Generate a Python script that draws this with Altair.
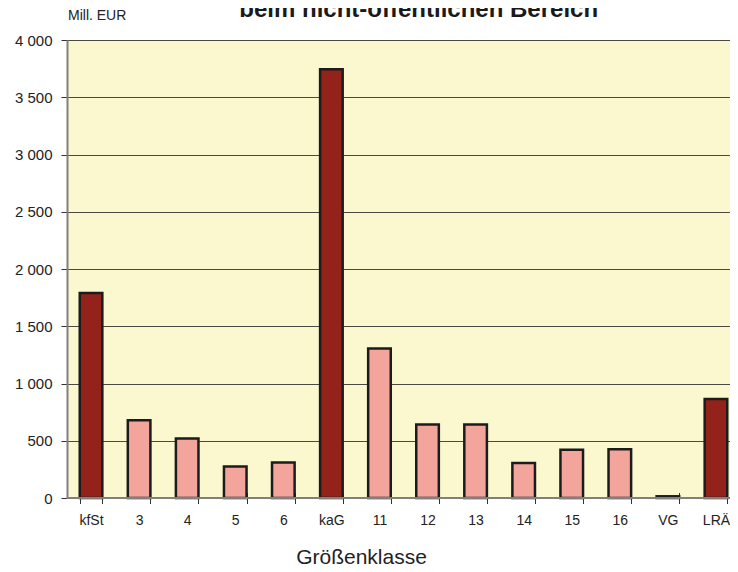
import altair as alt
import pandas as pd

categories = ["kfSt", "3", "4", "5", "6", "kaG", "11", "12", "13", "14", "15", "16", "VG", "LRÄ"]
values = [1790, 680, 520, 275, 310, 3745, 1305, 642, 642, 305, 421, 426, 15, 865]
groups = ["Gruppe", "Klasse", "Klasse", "Klasse", "Klasse", "Gruppe", "Klasse",
          "Klasse", "Klasse", "Klasse", "Klasse", "Klasse", "Gruppe", "Gruppe"]
group_domain = ["Gruppe", "Klasse"]
group_colors = ["#93231A", "#F3A49B"]
title_text = "beim nicht-öffentlichen Bereich"
unit_text = "Mill. EUR"
x_title = "Größenklasse"

df = pd.DataFrame({"cat": categories, "value": values, "grp": groups})

FONT = "Liberation Sans"

bars = alt.Chart(df).mark_bar(stroke="#1c1c1c", strokeWidth=2.5).encode(
    x=alt.X(
        "cat:N",
        sort=categories,
        scale=alt.Scale(range=[0, 673], paddingInner=0.53, paddingOuter=0.265),
        axis=alt.Axis(
            title=x_title,
            labelAngle=0,
            tickBand="extent",
            tickSize=11,
            offset=-5.5,
            domain=False,
            tickColor="#333333",
            tickWidth=1,
            labelPadding=10,
            labelFont=FONT,
            labelFontSize=14,
            labelColor="#222222",
            titleFont=FONT,
            titleFontSize=21,
            titleFontWeight="normal",
            titleColor="#222222",
            titleX=294,
            titleY=70.5,
            titleBaseline="alphabetic",
            titleAnchor="middle",
        ),
    ),
    y=alt.Y(
        "value:Q",
        scale=alt.Scale(domain=[0, 4000], nice=False),
        axis=alt.Axis(
            title=None,
            values=list(range(0, 4001, 500)),
            labelExpr="replace(format(datum.value, ',d'), ',', ' ')",
            tickSize=6,
            tickColor="#333333",
            domainColor="#808080",
            domainWidth=2,
            labelFont=FONT,
            labelFontSize=15,
            labelColor="#222222",
            labelPadding=9,
            grid=True,
            gridColor="#4a4a40",
            gridWidth=1,
        ),
    ),
    color=alt.Color("grp:N", scale=alt.Scale(domain=group_domain, range=group_colors), legend=None),
)

baseline = alt.Chart(df).mark_rule(color="#808080", strokeWidth=2).encode(
    y=alt.datum(0)
)

title = alt.Chart(pd.DataFrame({"t": [title_text]})).mark_text(
    font=FONT, fontSize=24, fontWeight="bold", color="#1a1a1a", align="center", baseline="alphabetic"
).encode(text="t:N", x=alt.value(351.7), y=alt.value(-23))

unit = alt.Chart(pd.DataFrame({"t": [unit_text]})).mark_text(
    font=FONT, fontSize=14, color="#222222", align="left", baseline="alphabetic"
).encode(text="t:N", x=alt.value(1), y=alt.value(-20.5))

chart = alt.layer(bars, baseline, title, unit).properties(
    width=663,
    height=458,
    autosize=alt.AutoSizeParams(type="none"),
    padding={"left": 59, "top": 32, "right": 0, "bottom": 72},
    background="white",
).configure_view(fill="#FBF7CF", stroke=None)

chart.save("out.html", embed_options={"renderer": "svg", "actions": False})
